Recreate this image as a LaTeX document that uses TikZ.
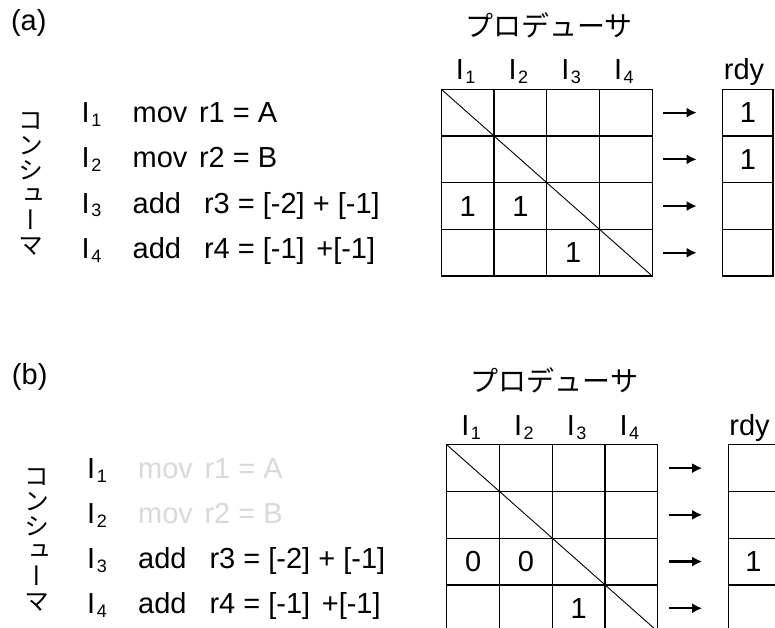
\documentclass[tikz,border=0pt]{standalone}
\usepackage{fontspec}
\setmainfont{Liberation Sans}
\newfontfamily\jp{Noto Sans CJK JP}
\newfontfamily\jpv[RawFeature=+vert]{Noto Sans CJK JP}
\usetikzlibrary{arrows.meta}
\definecolor{fade}{RGB}{217,217,217}
\newcommand\Isub[1]{I\kern1.5pt\raisebox{-4pt}{\fontsize{18}{18}\selectfont #1}}
\newcommand\drawpanel[2]{%
  \node[jptxt] (#1prod) at (549,25) {プロデューサ};
  \foreach \j in {1,...,4}{
    \node[txt, anchor=base] (#1h\j) at ({441.3+(\j-0.5)*52.75-2},80) {\Isub{\j}};
  }
  \node[txt, anchor=base] (#1rdyl) at (744,80) {rdy};
  \foreach \i in {1,...,4}{
    \foreach \j in {1,...,4}{
      \node[cell] (#1c\i\j) at ({441.3+(\j-0.5)*52.75},{89.3+(\i-0.5)*46.7}) {};
    }
    \node[rdycell] (#1r\i) at (747.85,{89.3+(\i-0.5)*46.7}) {};
    \draw[flow] ([xshift=11pt]#1c\i4.east) -- ([xshift=-26pt]#1r\i.west);
  }
  \draw[diag] (#1c11.north west) -- (#1c44.south east);
  \node[vtxt] (#1cons) at (31,184) {コ\\ン\\シ\\ュ\\ー\\マ};
  \node[txt,anchor=base west] (#1I1) at (81.7,123) {\Isub{1}};
  \node[txt,anchor=base west] (#1I2) at (81.7,168) {\Isub{2}};
  \node[txt,anchor=base west] (#1I3) at (81.7,213) {\Isub{3}};
  \node[txt,anchor=base west] (#1I4) at (81.7,258) {\Isub{4}};
  \node[txt,anchor=base west,text=#2] (#1op1) at (132.7,123) {mov};
  \node[txt,anchor=base west,text=#2] (#1op2) at (132.7,168) {mov};
  \node[txt,anchor=base west] (#1op3) at (132.7,213) {add};
  \node[txt,anchor=base west] (#1op4) at (132.7,258) {add};
  \node[txt,anchor=base west,text=#2] (#1ex1) at (199,123) {r1 = A};
  \node[txt,anchor=base west,text=#2] (#1ex2) at (199,168) {r2 = B};
  \node[txt,anchor=base west] (#1ex3) at (204,213) {r3 = [-2] + [-1]};
  \node[txt,anchor=base west] (#1ex4) at (204,258) {r4 = [-1]\hspace{0.4em}+[-1]};
}
\begin{document}
\begin{tikzpicture}[x=1pt,y=-1pt,
  txt/.style={font=\fontsize{29}{29}\selectfont, inner sep=0pt, outer sep=0pt},
  jptxt/.style={font=\jp\fontsize{28}{28}\selectfont, inner sep=0pt, outer sep=0pt},
  vtxt/.style={font=\jpv\fontsize{25}{25}\selectfont, align=center, inner sep=0pt, outer sep=0pt},
  cell/.style={draw, line width=1.3pt, minimum width=52.75pt, minimum height=46.7pt, inner sep=0pt, outer sep=0pt},
  rdycell/.style={cell, minimum width=50.3pt},
  diag/.style={line width=0.9pt},
  flow/.style={line width=2.2pt, -{Latex[length=10pt,width=10pt]}},
]
\clip (0,0) rectangle (775,628);
\fill[white] (0,0) rectangle (775,628);
% panel (a)
\node[txt, anchor=base west] (labela) at (11,31) {(a)};
\drawpanel{a}{black}
\node[txt] (a31t) at (ac31) {1};
\node[txt] (a32t) at (ac32) {1};
\node[txt] (a43t) at (ac43) {1};
\node[txt] (ar1t) at (ar1) {1};
\node[txt] (ar2t) at (ar2) {1};
% panel (b)
\node[txt, anchor=base west] (labelb) at (12,384) {(b)};
\begin{scope}[shift={(5.5,355.5)}]
\drawpanel{b}{fade}
\node[txt] (b31t) at (bc31) {0};
\node[txt] (b32t) at (bc32) {0};
\node[txt] (b43t) at (bc43) {1};
\node[txt] (br3t) at (br3) {1};
\end{scope}
\end{tikzpicture}
\end{document}
